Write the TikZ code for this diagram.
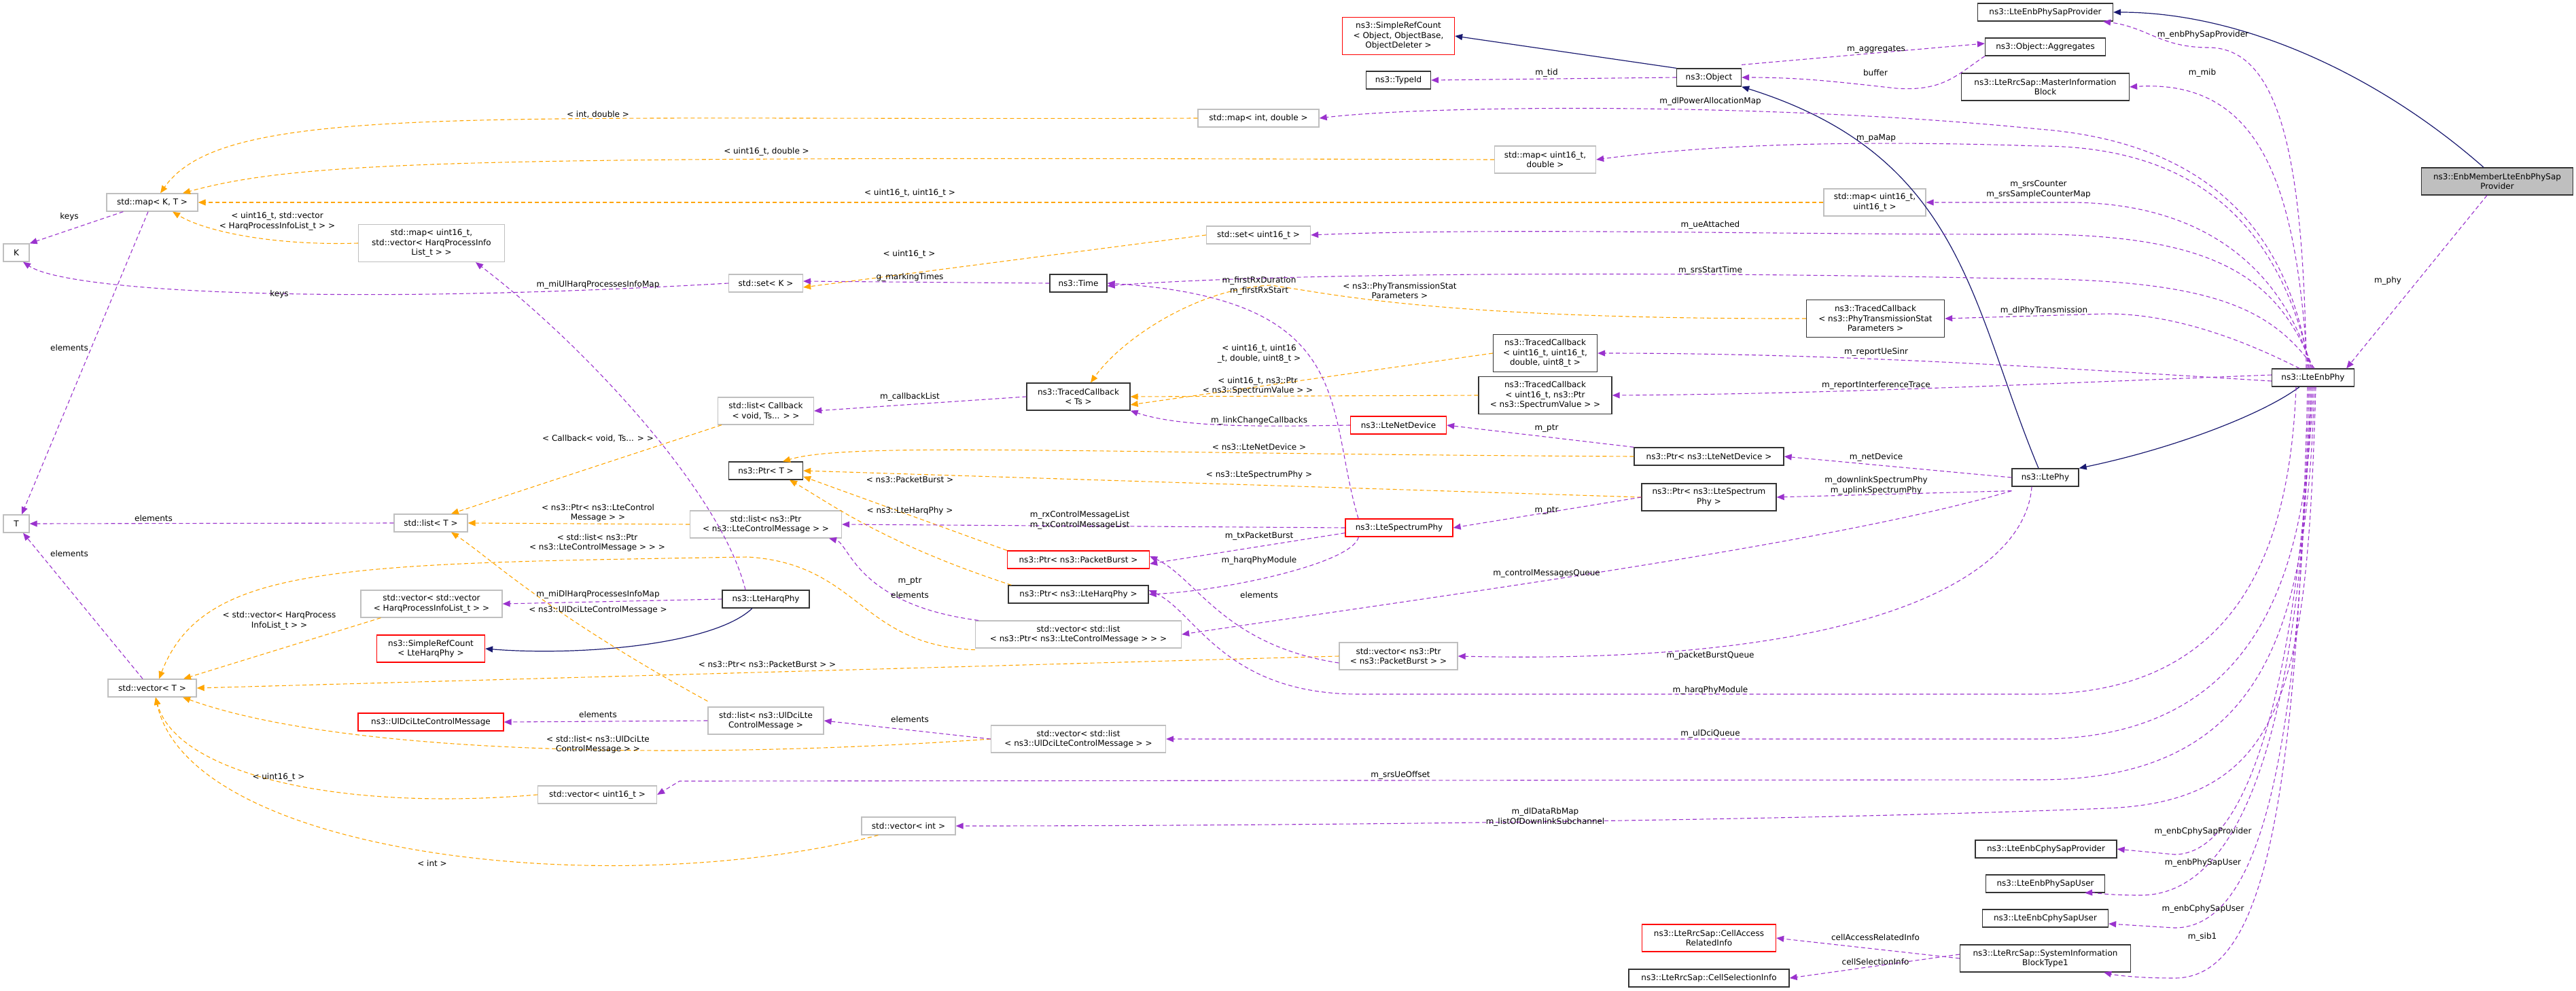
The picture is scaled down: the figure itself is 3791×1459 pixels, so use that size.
\documentclass[tikz,border=0pt]{standalone}
\usepackage{fontspec}
\setmainfont{DejaVu Sans}
\usetikzlibrary{arrows.meta}
\definecolor{pur}{HTML}{9A32CD}
\definecolor{org}{HTML}{FFA500}
\definecolor{nav}{HTML}{191970}
\newcommand\myfs{\fontsize{12}{14.5}\selectfont}
\newcommand\mynd[7]{\node[#6, minimum width=#4pt, minimum height=#5pt] (#1) at (#2,#3) {#7};}
\tikzset{
 bx/.style={draw=#1, rectangle, align=center, inner sep=1pt, font=\myfs, line width=1.3pt, fill=white},
 gb/.style={bx=black!25}, kb/.style={bx=black!80}, rb/.style={bx=red},
 tip/.style={-{Triangle[length=11pt,width=9pt]}},
 pe/.style={draw=pur, dash pattern=on 6pt off 4pt, line width=1.1pt, tip, fill=none},
 oe/.style={draw=org, dash pattern=on 6pt off 4pt, line width=1.1pt, tip},
 ne/.style={draw=nav, line width=1.2pt, tip},
 lbl/.style={font=\myfs, align=center, inner sep=0pt},
}
\begin{document}
\begin{tikzpicture}[x=1pt,y=-1pt]
\useasboundingbox (0,0) rectangle (3791,1459);
% nodes
\mynd{mapKT}{224}{298}{134}{26}{gb}{std::map< K, T >}
\mynd{K}{24}{372}{38}{26}{gb}{K}
\mynd{mapUV}{635}{358}{215}{55}{gb}{std::map< uint16\_t,\\ std::vector< HarqProcessInfo\\List\_t > >}
\mynd{T}{24}{771}{38}{26}{gb}{T}
\mynd{listT}{634}{770}{108}{26}{gb}{std::list< T >}
\mynd{vecvec}{635}{889}{208}{40}{gb}{std::vector< std::vector\\< HarqProcessInfoList\_t > >}
\mynd{srcHarq}{634}{955}{159}{40}{rb}{ns3::SimpleRefCount\\< LteHarqPhy >}
\mynd{vecT}{224}{1013}{130}{26}{gb}{std::vector< T >}
\mynd{uldci}{634}{1063}{214}{26}{rb}{ns3::UlDciLteControlMessage}
\mynd{vecu16}{879}{1170}{175}{26}{gb}{std::vector< uint16\_t >}
\mynd{mapid}{1852}{174}{178}{26}{gb}{std::map< int, double >}
\mynd{setu16}{1852}{346}{153}{26}{gb}{std::set< uint16\_t >}
\mynd{setK}{1127}{417}{109}{26}{gb}{std::set< K >}
\mynd{time}{1587}{417}{84}{26}{kb}{ns3::Time}
\mynd{listcb}{1127}{605}{141}{40}{gb}{std::list< Callback\\< void, Ts... > >}
\mynd{tcTs}{1587}{584}{152}{40}{kb}{ns3::TracedCallback\\< Ts >}
\mynd{ptrT}{1127}{693}{109}{26}{kb}{ns3::Ptr< T >}
\mynd{listptr}{1127}{772}{223}{40}{gb}{std::list< ns3::Ptr\\< ns3::LteControlMessage > >}
\mynd{ptrPB}{1587}{824}{209}{26}{rb}{ns3::Ptr< ns3::PacketBurst >}
\mynd{harq}{1127}{882}{128}{26}{kb}{ns3::LteHarqPhy}
\mynd{ptrHarq}{1587}{875}{206}{26}{kb}{ns3::Ptr< ns3::LteHarqPhy >}
\mynd{veclistptr}{1587}{934}{303}{40}{gb}{std::vector< std::list\\< ns3::Ptr< ns3::LteControlMessage > > >}
\mynd{vecPB}{2058}{966}{174}{40}{gb}{std::vector< ns3::Ptr\\< ns3::PacketBurst > >}
\mynd{listuldci}{1127}{1061}{170}{40}{gb}{std::list< ns3::UlDciLte\\ControlMessage >}
\mynd{veclistuldci}{1587}{1088}{257}{40}{gb}{std::vector< std::list\\< ns3::UlDciLteControlMessage > >}
\mynd{vecint}{1337}{1216}{138}{26}{gb}{std::vector< int >}
\mynd{srcObj}{2058}{53}{165}{55}{rb}{ns3::SimpleRefCount\\< Object, ObjectBase,\\ ObjectDeleter >}
\mynd{typeid}{2058}{118}{95}{26}{kb}{ns3::TypeId}
\mynd{object}{2515}{114}{95}{26}{kb}{ns3::Object}
\mynd{aggr}{3010}{69}{177}{26}{kb}{ns3::Object::Aggregates}
\mynd{sapprov}{3010}{18}{199}{26}{kb}{ns3::LteEnbPhySapProvider}
\mynd{mib}{3010}{128}{247}{40}{kb}{ns3::LteRrcSap::MasterInformation\\Block}
\mynd{mapud}{2274}{235}{149}{40}{gb}{std::map< uint16\_t,\\ double >}
\mynd{mapuu}{2759}{298}{150}{40}{gb}{std::map< uint16\_t,\\ uint16\_t >}
\mynd{tcphy}{2760}{469}{203}{55}{kb}{ns3::TracedCallback\\< ns3::PhyTransmissionStat\\Parameters >}
\mynd{tcsinr}{2274}{520}{153}{55}{kb}{ns3::TracedCallback\\< uint16\_t, uint16\_t,\\ double, uint8\_t >}
\mynd{tcspec}{2274}{582}{196}{55}{kb}{ns3::TracedCallback\\< uint16\_t, ns3::Ptr\\< ns3::SpectrumValue > >}
\mynd{netdev}{2058}{626}{141}{26}{rb}{ns3::LteNetDevice}
\mynd{ptrnet}{2515}{672}{220}{26}{kb}{ns3::Ptr< ns3::LteNetDevice >}
\mynd{ltephy}{3010}{703}{98}{26}{kb}{ns3::LtePhy}
\mynd{ptrspec}{2515}{732}{198}{40}{kb}{ns3::Ptr< ns3::LteSpectrum\\Phy >}
\mynd{specphy}{2059}{777}{158}{26}{rb}{ns3::LteSpectrumPhy}
\mynd{cphyprov}{3011}{1250}{208}{26}{kb}{ns3::LteEnbCphySapProvider}
\mynd{physapuser}{3010}{1301}{175}{26}{kb}{ns3::LteEnbPhySapUser}
\mynd{cphyuser}{3010}{1352}{185}{26}{kb}{ns3::LteEnbCphySapUser}
\mynd{cellacc}{2515}{1381}{197}{40}{rb}{ns3::LteRrcSap::CellAccess\\RelatedInfo}
\mynd{sib1}{3010}{1411}{251}{40}{kb}{ns3::LteRrcSap::SystemInformation\\BlockType1}
\mynd{cellsel}{2515}{1440}{236}{26}{kb}{ns3::LteRrcSap::CellSelectionInfo}
\mynd{enbmember}{3675}{267}{223}{40}{bx=black!80,fill=black!25}{ns3::EnbMemberLteEnbPhySap\\Provider}
\mynd{enb}{3404}{556}{121}{26}{kb}{ns3::LteEnbPhy}
% inheritance
\draw[ne] (object.north west) -- (srcObj.east);
\draw[ne] ([xshift=-10]ltephy.north) .. controls (2900,450) and (2890,230) .. (object.south east);
\draw[ne] ([xshift=-20]enb.south) .. controls (3330,610) and (3200,660) .. (ltephy.north east);
\draw[ne] ([xshift=-20]harq.south) .. controls (1050,950) and (850,966) .. (srcHarq.east);
\draw[ne] ([xshift=-20]enbmember.north) .. controls (3500,110) and (3300,18) .. (sapprov.east);
% orange template edges
\draw[oe] (mapid.west) .. controls (700,178) and (330,150) .. ([xshift=12]mapKT.north);
\draw[oe] (mapud.west) .. controls (700,230) and (450,235) .. ([xshift=45]mapKT.north);
\draw[oe] (mapuu.west) -- (mapKT.east);
\draw[oe] (mapUV.west) .. controls (400,362) and (300,340) .. ([xshift=30]mapKT.south);
\draw[oe] (setu16.west) -- ([yshift=-6]setK.east);
\draw[oe] ([xshift=6]listcb.south west) -- ([xshift=30]listT.north);
\draw[oe] (listptr.west) -- (listT.east);
\draw[oe] ([yshift=8]listuldci.north west) .. controls (800,900) and (720,820) .. ([xshift=30]listT.south);
\draw[oe] ([xshift=30]vecvec.south west) -- ([xshift=46]vecT.north);
\draw[oe] ([yshift=-2]veclistptr.south west) .. controls (1265,950) and (1265,830) .. (1100,820) .. controls (500,830) and (300,830) .. ([xshift=10]vecT.north);
\draw[oe] (vecPB.west) -- (vecT.east);
\draw[oe] (veclistuldci.west) .. controls (1000,1120) and (500,1110) .. ([xshift=45]vecT.south);
\draw[oe] (vecu16.west) .. controls (500,1195) and (260,1140) .. ([xshift=5]vecT.south);
\draw[oe] ([xshift=25]vecint.south west) .. controls (900,1330) and (280,1260) .. ([xshift=5]vecT.south);
\draw[oe] (tcphy.west) .. controls (2100,470) and (1950,430) .. (1870,420) .. controls (1760,425) and (1650,500) .. ([xshift=18]tcTs.north);
\draw[oe] (tcsinr.west) -- ([yshift=-12]tcTs.east);
\draw[oe] (tcspec.west) -- (tcTs.east);
\draw[oe] (ptrnet.west) .. controls (1600,668) and (1250,650) .. ([xshift=25]ptrT.north);
\draw[oe] (ptrspec.west) -- (ptrT.east);
\draw[oe] (ptrPB.north west) -- ([yshift=5]ptrT.south east);
\draw[oe] ([xshift=5]ptrHarq.north west) .. controls (1300,800) and (1220,740) .. ([xshift=35]ptrT.south);
% purple member edges
\draw[pe] ([xshift=25]mapKT.south west) -- (K.north east);
\draw[pe] (setK.west) .. controls (500,450) and (100,430) .. ([xshift=10]K.south);
\draw[pe] ([xshift=-6]mapKT.south) -- ([xshift=8]T.north);
\draw[pe] (listT.west) -- (T.east);
\draw[pe] ([xshift=-14]vecT.north) -- ([xshift=10]T.south);
\draw[pe] (time.west) -- ([yshift=3]setK.east);
\draw[pe] ([xshift=-30]harq.north) .. controls (1060,720) and (850,500) .. ([xshift=65]mapUV.south);
\draw[pe] (harq.west) -- (vecvec.east);
\draw[pe] (tcTs.west) -- (listcb.east);
\draw[pe] (netdev.west) .. controls (1860,628) and (1740,630) .. (tcTs.south east);
\draw[pe] ([xshift=-60]specphy.north) .. controls (1950,600) and (2000,440) .. (time.east);
\draw[pe] (specphy.west) -- (listptr.east);
\draw[pe] ([yshift=6]specphy.south west) -- ([yshift=-6]ptrPB.east);
\draw[pe] ([xshift=20]specphy.south west) .. controls (1990,830) and (1800,870) .. (ptrHarq.east);
\draw[pe] ([xshift=5]veclistptr.north west) .. controls (1260,890) and (1250,800) .. ([xshift=93]listptr.south);
\draw[pe] ([yshift=-10]vecPB.west) .. controls (1800,950) and (1760,850) .. ([yshift=5]ptrPB.east);
\draw[pe] (veclistuldci.west) -- (listuldci.east);
\draw[pe] (listuldci.west) -- (uldci.east);
\draw[pe] (object.west) -- (typeid.east);
\draw[pe] ([yshift=5]object.north east) -- ([yshift=5]aggr.west);
\draw[pe] (aggr.south west) .. controls (2880,110) and (2860,135) .. (2790,130) .. controls (2700,120) and (2650,114) .. (object.east);
\draw[pe] (ptrnet.north west) -- (netdev.east);
\draw[pe] (ptrspec.west) -- (specphy.east);
\draw[pe] (ltephy.west) -- (ptrnet.east);
\draw[pe] ([yshift=-6]ltephy.south west) -- (ptrspec.east);
\draw[pe] ([yshift=-6]ltephy.south west) .. controls (2700,800) and (2100,880) .. (veclistptr.east);
\draw[pe] ([xshift=-20]ltephy.south) .. controls (2980,850) and (2750,980) .. (vecPB.east);
\draw[pe] (sib1.west) -- (cellacc.east);
\draw[pe] ([yshift=6]sib1.west) -- (cellsel.east);
\draw[pe] ([xshift=-15]enbmember.south) -- ([xshift=-12]enb.north east);
% from LteEnbPhy upward
\draw[pe] ([xshift=-10]enb.north) .. controls (3390,250) and (3360,70) .. (3250,70) .. controls (3180,70) and (3160,40) .. ([xshift=-15]sapprov.south east);
\draw[pe] ([xshift=-8]enb.north) .. controls (3380,300) and (3340,115) .. (mib.east);
\draw[pe] ([xshift=-6]enb.north) .. controls (3370,350) and (3260,210) .. (3000,190) .. controls (2600,150) and (2100,155) .. (mapid.east);
\draw[pe] ([xshift=-4]enb.north) .. controls (3360,350) and (3250,215) .. (3000,215) .. controls (2700,205) and (2500,215) .. (mapud.east);
\draw[pe] ([xshift=-2]enb.north) .. controls (3360,400) and (3250,300) .. (3050,298) -- (mapuu.east);
\draw[pe] (enb.north) .. controls (3350,400) and (3250,340) .. (2950,345) .. controls (2600,345) and (2200,335) .. (setu16.east);
\draw[pe] ([xshift=2]enb.north) .. controls (3340,450) and (3250,410) .. (2950,410) .. controls (2500,400) and (1900,400) .. ([yshift=-4]time.east);
\draw[pe] ([xshift=-20]enb.north) .. controls (3300,500) and (3200,462) .. (3100,462) -- (tcphy.east);
\draw[pe] ([yshift=-5]enb.west) .. controls (3000,540) and (2700,520) .. (tcsinr.east);
\draw[pe] ([yshift=4]enb.west) .. controls (3000,565) and (2700,580) .. (tcspec.east);
% from LteEnbPhy downward
\draw[pe] ([xshift=-25]enb.south) .. controls (3370,800) and (3300,1020) .. (3000,1022) -- (2000,1022) .. controls (1800,1022) and (1760,900) .. ([yshift=6]ptrHarq.east);
\draw[pe] (enb.south) .. controls (3395,800) and (3350,1088) .. (3000,1088) -- (veclistuldci.east);
\draw[pe] ([xshift=2]enb.south) .. controls (3395,900) and (3350,1148) .. (3000,1148) -- (1000,1150) -- (vecu16.east);
\draw[pe] ([xshift=4]enb.south) .. controls (3395,1000) and (3370,1180) .. (3100,1190) .. controls (2600,1210) and (1800,1216) .. (vecint.east);
\draw[pe] ([xshift=-2]enb.south) .. controls (3390,900) and (3330,1258) .. (3200,1258) -- (cphyprov.east);
\draw[pe] ([xshift=-4]enb.south) .. controls (3390,1000) and (3320,1318) .. (3150,1318) .. controls (3100,1318) and (3080,1314) .. ([xshift=-30]physapuser.south east);
\draw[pe] ([xshift=-6]enb.south) .. controls (3385,1100) and (3330,1366) .. (3200,1366) -- ([yshift=-8]cphyuser.east);
\draw[pe] ([xshift=-8]enb.south) .. controls (3380,1200) and (3330,1440) .. (3200,1440) .. controls (3140,1440) and (3110,1435) .. ([xshift=-40]sib1.south east);
% labels
\node[lbl] (a1) at (880,169) {< int, double >};
\node[lbl] (a2) at (1128,223) {< uint16\_t, double >};
\node[lbl] (a3) at (1339,284) {< uint16\_t, uint16\_t >};
\node[lbl] (a4) at (408,326) {< uint16\_t, std::vector\\< HarqProcessInfoList\_t > >};
\node[lbl] (a5) at (102,319) {keys};
\node[lbl] (a6) at (411,433) {keys};
\node[lbl] (a7) at (102,512) {elements};
\node[lbl] (a8) at (880,419) {m\_miUlHarqProcessesInfoMap};
\node[lbl] (a9) at (880,646) {< Callback< void, Ts... > >};
\node[lbl] (a10) at (226,763) {elements};
\node[lbl] (a11) at (102,815) {elements};
\node[lbl] (a12) at (880,755) {< ns3::Ptr< ns3::LteControl\\Message > >};
\node[lbl] (a13) at (879,799) {< std::list< ns3::Ptr\\< ns3::LteControlMessage > > >};
\node[lbl] (a14) at (880,875) {m\_miDlHarqProcessesInfoMap};
\node[lbl] (a15) at (880,898) {< ns3::UlDciLteControlMessage >};
\node[lbl] (a16) at (411,914) {< std::vector< HarqProcess\\InfoList\_t > >};
\node[lbl] (a17) at (880,1052) {elements};
\node[lbl] (a18) at (880,1096) {< std::list< ns3::UlDciLte\\ControlMessage > >};
\node[lbl] (a19) at (410,1144) {< uint16\_t >};
\node[lbl] (a20) at (636,1271) {< int >};
\node[lbl] (a21) at (1338,374) {< uint16\_t >};
\node[lbl] (a22) at (1339,408) {g\_markingTimes};
\node[lbl] (a23) at (1853,421) {m\_firstRxDuration\\m\_firstRxStart};
\node[lbl] (a24) at (1853,521) {< uint16\_t, uint16\\\_t, double, uint8\_t >};
\node[lbl] (a25) at (1851,568) {< uint16\_t, ns3::Ptr\\< ns3::SpectrumValue > >};
\node[lbl] (a26) at (1339,584) {m\_callbackList};
\node[lbl] (a27) at (1853,619) {m\_linkChangeCallbacks};
\node[lbl] (a28) at (1853,658) {< ns3::LteNetDevice >};
\node[lbl] (a29) at (1853,699) {< ns3::LteSpectrumPhy >};
\node[lbl] (a30) at (1339,706) {< ns3::PacketBurst >};
\node[lbl] (a31) at (1339,752) {< ns3::LteHarqPhy >};
\node[lbl] (a32) at (1589,766) {m\_rxControlMessageList\\m\_txControlMessageList};
\node[lbl] (a33) at (1853,789) {m\_txPacketBurst};
\node[lbl] (a34) at (1853,825) {m\_harqPhyModule};
\node[lbl] (a35) at (1339,856) {m\_ptr};
\node[lbl] (a36) at (1339,876) {elements};
\node[lbl] (a37) at (1853,876) {elements};
\node[lbl] (a38) at (1129,978) {< ns3::Ptr< ns3::PacketBurst > >};
\node[lbl] (a39) at (1339,1059) {elements};
\node[lbl] (a40) at (2276,107) {m\_tid};
\node[lbl] (a41) at (2761,73) {m\_aggregates};
\node[lbl] (a42) at (2760,107) {buffer};
\node[lbl] (a43) at (2517,149) {m\_dlPowerAllocationMap};
\node[lbl] (a44) at (2761,204) {m\_paMap};
\node[lbl] (a45) at (3000,279) {m\_srsCounter\\m\_srsSampleCounterMap};
\node[lbl] (a46) at (2517,331) {m\_ueAttached};
\node[lbl] (a47) at (2517,398) {m\_srsStartTime};
\node[lbl] (a48) at (2060,428) {< ns3::PhyTransmissionStat\\Parameters >};
\node[lbl] (a49) at (3008,457) {m\_dlPhyTransmission};
\node[lbl] (a50) at (2761,518) {m\_reportUeSinr};
\node[lbl] (a51) at (2761,567) {m\_reportInterferenceTrace};
\node[lbl] (a52) at (2276,631) {m\_ptr};
\node[lbl] (a53) at (2761,673) {m\_netDevice};
\node[lbl] (a54) at (2761,715) {m\_downlinkSpectrumPhy\\m\_uplinkSpectrumPhy};
\node[lbl] (a55) at (2276,752) {m\_ptr};
\node[lbl] (a56) at (2276,844) {m\_controlMessagesQueue};
\node[lbl] (a57) at (2517,965) {m\_packetBurstQueue};
\node[lbl] (a58) at (2517,1016) {m\_harqPhyModule};
\node[lbl] (a59) at (2517,1080) {m\_ulDciQueue};
\node[lbl] (a60) at (2061,1141) {m\_srsUeOffset};
\node[lbl] (a61) at (2274,1203) {m\_dlDataRbMap\\m\_listOfDownlinkSubchannel};
\node[lbl] (a62) at (2760,1380) {cellAccessRelatedInfo};
\node[lbl] (a63) at (2760,1416) {cellSelectionInfo};
\node[lbl] (a64) at (3242,51) {m\_enbPhySapProvider};
\node[lbl] (a65) at (3241,107) {m\_mib};
\node[lbl] (a66) at (3514,413) {m\_phy};
\node[lbl] (a67) at (3242,1224) {m\_enbCphySapProvider};
\node[lbl] (a68) at (3242,1270) {m\_enbPhySapUser};
\node[lbl] (a69) at (3242,1338) {m\_enbCphySapUser};
\node[lbl] (a70) at (3241,1379) {m\_sib1};
\end{tikzpicture}
\end{document}
